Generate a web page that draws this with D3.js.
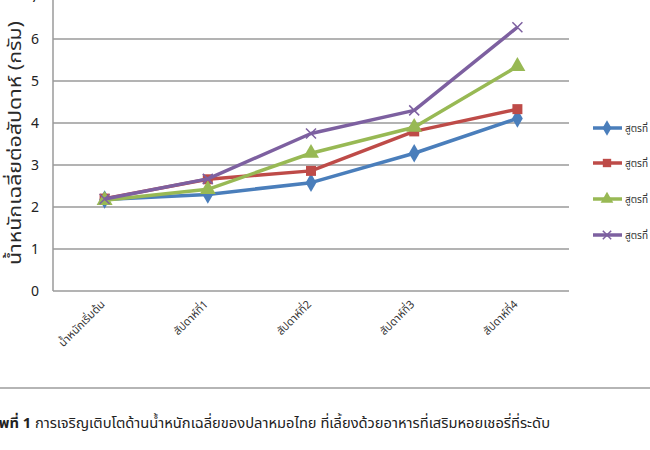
<!DOCTYPE html>
<html>
<head>
<meta charset="utf-8">
<script src="https://cdn.jsdelivr.net/npm/d3@7"></script>
<style>
  body { margin: 0; background: #fff; }
  svg { display: block; font-family: Tahoma, "Noto Sans Thai", "Noto Sans", sans-serif; }
</style>
</head>
<body>
<svg id="chart" width="650" height="450"></svg>
<script>
var categories = ['น้ำหนักเริ่มต้น', 'สัปดาห์ที่1', 'สัปดาห์ที่2', 'สัปดาห์ที่3', 'สัปดาห์ที่4'];
var seriesNames = ['สูตรที่ 1', 'สูตรที่ 2', 'สูตรที่ 3', 'สูตรที่ 4'];
var formula1 = [2.18, 2.3, 2.58, 3.28, 4.11];
var formula2 = [2.2, 2.66, 2.86, 3.8, 4.33];
var formula3 = [2.16, 2.42, 3.28, 3.9, 5.35];
var formula4 = [2.19, 2.67, 3.75, 4.3, 6.28];
var yTicks = [0, 1, 2, 3, 4, 5, 6, 7];
var yLabel = 'น้ำหนักเฉลี่ยต่อสัปดาห์ (กรัม)';
var caption = ['ภาพที่ 1', ' การเจริญเติบโตด้านน้ำหนักเฉลี่ยของปลาหมอไทย ที่เลี้ยงด้วยอาหารที่เสริมหอยเชอรี่ที่ระดับ'];

var colors = ['#4a7ebb', '#be4b48', '#98b954', '#7d60a0'];
var shapes = ['diamond', 'square', 'triangle', 'cross'];
var allSeries = [formula1, formula2, formula3, formula4];

var svg = d3.select('#chart');

var x = d3.scalePoint().domain(categories).range([53, 569]).padding(0.5);
var y = d3.scaleLinear().domain([0, 7]).range([291, -3]);

// grid lines
svg.append('g')
  .selectAll('line')
  .data(yTicks)
  .join('line')
  .attr('x1', 53)
  .attr('x2', 569)
  .attr('y1', d => y(d))
  .attr('y2', d => y(d))
  .style('stroke', '#9a9a9a')
  .style('stroke-width', 1.5);

// y axis line
svg.append('line')
  .attr('x1', 53).attr('x2', 53)
  .attr('y1', y(7)).attr('y2', y(0))
  .style('stroke', '#9a9a9a')
  .style('stroke-width', 1.5);

// y tick labels
svg.append('g')
  .selectAll('text')
  .data(yTicks)
  .join('text')
  .attr('x', 39)
  .attr('y', d => y(d))
  .attr('dy', '0.35em')
  .attr('text-anchor', 'end')
  .style('font-size', '14px')
  .style('fill', '#222')
  .text(d => d);

// y axis title
svg.append('text')
  .attr('transform', 'translate(21,143) rotate(-90)')
  .attr('text-anchor', 'middle')
  .attr('textLength', 244)
  .attr('lengthAdjust', 'spacingAndGlyphs')
  .style('font-size', '18px')
  .style('fill', '#2a2a2a')
  .text(yLabel);

// x labels
svg.append('g')
  .selectAll('text')
  .data(categories)
  .join('text')
  .attr('transform', d => 'translate(' + (x(d) + 1) + ',305) rotate(-45)')
  .attr('text-anchor', 'end')
  .style('font-size', '11px')
  .style('fill', '#333')
  .text(d => d);

function markerPath(shape, size) {
  var map = {
    diamond: d3.symbolDiamond,
    square: d3.symbolSquare,
    triangle: d3.symbolTriangle,
    cross: d3.symbolCross
  };
  return d3.symbol().type(map[shape]).size(size)();
}

function drawMarker(g, shape, color, size) {
  if (shape === 'cross') {
    var r = Math.sqrt(size) / 2;
    g.append('path')
      .attr('d', 'M' + (-r) + ',' + (-r) + 'L' + r + ',' + r + 'M' + (-r) + ',' + r + 'L' + r + ',' + (-r))
      .style('stroke', color)
      .style('stroke-width', 1.5)
      .style('fill', 'none');
  } else {
    g.append('path')
      .attr('d', markerPath(shape, size))
      .style('fill', color);
  }
}

var line = d3.line()
  .x((d, i) => x(categories[i]))
  .y(d => y(d));

allSeries.forEach(function(values, s) {
  svg.append('path')
    .datum(values)
    .attr('d', line)
    .style('fill', 'none')
    .style('stroke', colors[s])
    .style('stroke-width', 3.5)
    .style('stroke-linejoin', 'round');

  values.forEach(function(v, i) {
    var g = svg.append('g')
      .attr('transform', 'translate(' + x(categories[i]) + ',' + y(v) + ')');
    drawMarker(g, shapes[s], colors[s], s === 2 ? 110 : 100);
  });
});

// legend
var legendY = [128, 163, 199, 235];
seriesNames.forEach(function(name, s) {
  var g = svg.append('g').attr('transform', 'translate(607,' + legendY[s] + ')');
  g.append('line')
    .attr('x1', -14).attr('x2', 15)
    .style('stroke', colors[s])
    .style('stroke-width', 3.5);
  drawMarker(g, shapes[s], colors[s], 70);
  g.append('text')
    .attr('x', 18)
    .attr('dy', '0.35em')
    .style('font-size', '10px')
    .style('fill', '#333')
    .text(name);
});

// chart frame bottom edge
svg.append('line')
  .attr('x1', 0).attr('x2', 650)
  .attr('y1', 388).attr('y2', 388)
  .style('stroke', '#b5b5b5')
  .style('stroke-width', 2);

// caption
var cap = svg.append('text')
  .attr('x', -17)
  .attr('y', 428)
  .style('font-size', '14.7px')
  .style('fill', '#222');
cap.append('tspan').style('font-weight', 'bold').text(caption[0]);
cap.append('tspan').text(caption[1]);
</script>
</body>
</html>
